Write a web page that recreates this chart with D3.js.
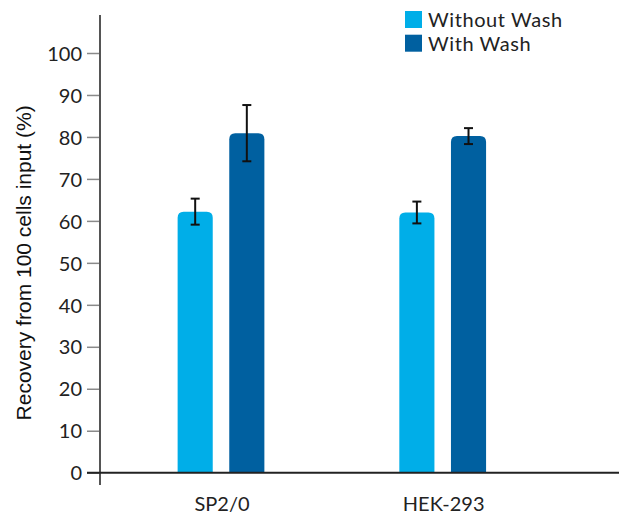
<!DOCTYPE html>
<html><head><meta charset="utf-8">
<script src="https://cdn.jsdelivr.net/npm/d3@7"></script>
<style>html,body{margin:0;padding:0;background:#fff;}</style>
</head><body>
<svg id="c" width="621" height="514"></svg>
<script>
const categories = ["SP2/0", "HEK-293"];
const seriesNames = ["Without Wash", "With Wash"];
const withoutWash = [62.2, 62.0];
const withoutWashErr = [3.1, 2.6];
const withWash = [80.9, 80.2];
const withWashErr = [6.7, 1.9];
const yTicks = [0, 10, 20, 30, 40, 50, 60, 70, 80, 90, 100];
const colors = ["#00AEE8", "#0060A0"];

const values = [withoutWash, withWash];
const errs = [withoutWashErr, withWashErr];

const svg = d3.select("#c");
const y = d3.scaleLinear().domain([0, 100]).range([472.7, 53]);
const x0 = d3.scaleBand().domain(categories).range([100, 563.7]).paddingInner(0.0916).paddingOuter(0.0916);
const x1 = d3.scaleBand().domain(seriesNames).range([0, x0.bandwidth()]).paddingInner(0.32).paddingOuter(1.11);

const tickFont = "Lato, 'Noto Sans', sans-serif";

// y ticks
const yAxis = d3.axisLeft(y).tickValues(yTicks).tickSize(13).tickPadding(5);
const gy = svg.append("g").attr("transform", "translate(100,0)").call(yAxis);
gy.select(".domain").remove();
gy.selectAll(".tick line").attr("stroke", "#8a8a8a").attr("stroke-width", 1.5);
gy.selectAll(".tick text").attr("font-family", tickFont).attr("font-size", 20).attr("fill", "#222").attr("dy", "0.36em");

// bars
const rr = 6;
seriesNames.forEach((s, si) => {
  categories.forEach((c, ci) => {
    const v = values[si][ci];
    const bx = x0(c) + x1(s), bw = x1.bandwidth();
    const top = y(v), bot = y(0);
    const r = Math.min(rr, bw / 2);
    const p = `M${bx},${bot} L${bx},${top + r} Q${bx},${top} ${bx + r},${top} L${bx + bw - r},${top} Q${bx + bw},${top} ${bx + bw},${top + r} L${bx + bw},${bot} Z`;
    svg.append("path").attr("d", p).attr("fill", colors[si]);
  });
});

// error bars
seriesNames.forEach((s, si) => {
  categories.forEach((c, ci) => {
    const v = values[si][ci], e = errs[si][ci];
    const cx = x0(c) + x1(s) + x1.bandwidth() / 2;
    const g = svg.append("g").attr("stroke", "#111").attr("stroke-width", 2);
    g.append("line").attr("x1", cx).attr("x2", cx).attr("y1", y(v + e)).attr("y2", y(v - e));
    g.append("line").attr("x1", cx - 4.5).attr("x2", cx + 4.5).attr("y1", y(v + e)).attr("y2", y(v + e));
    g.append("line").attr("x1", cx - 4.5).attr("x2", cx + 4.5).attr("y1", y(v - e)).attr("y2", y(v - e));
  });
});

// axis lines
svg.append("line").attr("x1", 100).attr("x2", 100).attr("y1", 15).attr("y2", 485).attr("stroke", "#555").attr("stroke-width", 2);
svg.append("line").attr("x1", 87).attr("x2", 619).attr("y1", y(0)).attr("y2", y(0)).attr("stroke", "#222").attr("stroke-width", 2);

// x labels
svg.selectAll(".xl").data(categories).enter().append("text")
  .attr("x", d => x0(d) + x0.bandwidth() / 2 + 1)
  .attr("y", 511)
  .attr("text-anchor", "middle")
  .attr("font-family", tickFont).attr("font-size", 20).attr("fill", "#222")
  .text(d => d);

// y title
svg.append("text")
  .attr("transform", `translate(31,${(y(0) + y(100)) / 2}) rotate(-90)`)
  .attr("text-anchor", "middle")
  .attr("font-family", "'Liberation Sans', Arial, sans-serif").attr("font-size", 21).attr("fill", "#111")
  .text("Recovery from 100 cells input (%)");

// legend
const lg = svg.append("g");
seriesNames.forEach((s, i) => {
  lg.append("rect").attr("x", 405).attr("y", 11 + i * 23.7).attr("width", 17).attr("height", 17).attr("fill", colors[i]);
  lg.append("text").attr("x", 428).attr("y", 27 + i * 23.7)
    .attr("font-family", tickFont).attr("font-size", 20).attr("letter-spacing", 0.6).attr("fill", "#222").text(s);
});
</script>
</body></html>
